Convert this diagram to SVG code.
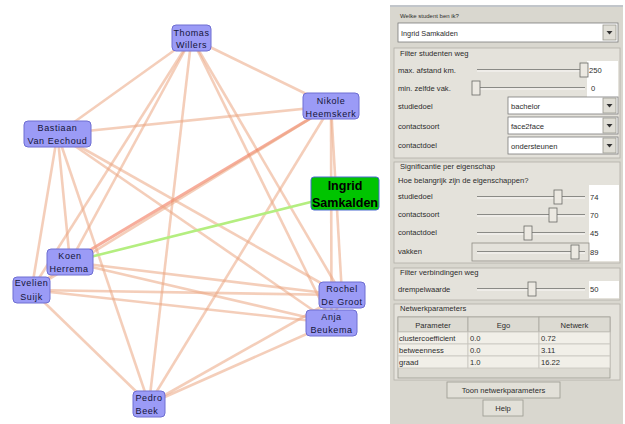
<svg xmlns="http://www.w3.org/2000/svg" width="625" height="424" viewBox="0 0 625 424">
<style>
.e{stroke:#eba582;stroke-opacity:0.55;stroke-width:2.6;fill:none}
.es{stroke:#f06a4a;stroke-opacity:0.55;stroke-width:3;fill:none}
.eg{stroke:#b4ee80;stroke-width:2.6;fill:none}
.nd rect{fill:#9b9bf6;stroke:#6e6ed2;stroke-width:1}
.nd text{font-family:"Liberation Sans",Arial,sans-serif;font-size:9px;letter-spacing:0.6px;fill:#141438;text-anchor:middle}
.ig rect{fill:#00c400;stroke:#4a6ad0;stroke-width:1}
.ig text{font-family:"Liberation Sans",Arial,sans-serif;font-size:12.5px;font-weight:bold;fill:#000;text-anchor:middle}
.t{font-family:"Liberation Sans",Arial,sans-serif;font-size:7.6px;fill:#2c2c2c}
.tc{font-family:"Liberation Sans",Arial,sans-serif;font-size:7.6px;fill:#2c2c2c;text-anchor:middle}
.grp{fill:#e4e2db;stroke:#b2b0a8;stroke-width:0.8}
.wb{fill:#ffffff;stroke:#7a7a7a;stroke-width:0.8}
.btn{fill:#e2e0d8;stroke:#9a9890;stroke-width:0.8}
.trk{stroke:#8a8a86;stroke-width:1.2}
.trk2{stroke:#ffffff;stroke-width:0.8}
.th{fill:#ece9e2;stroke:#6a6a66;stroke-width:0.8}
.cell{fill:#f1efe8;stroke:#c8c6be;stroke-width:0.8}
.hcell{fill:#dcdad2;stroke:#a8a69e;stroke-width:0.8}
</style>
<defs>
<g id="arrow"><rect x="0" y="0" width="13" height="15" fill="#e0ded6" stroke="#9a9890" stroke-width="0.8"/><path d="M3.5 6 L9.5 6 L6.5 9.5 Z" fill="#333"/></g>
<g id="thumb"><rect x="-4" y="-7" width="8" height="14" class="th"/></g>
</defs>
<rect x="0" y="0" width="625" height="424" fill="#ffffff"/>
<g id="connectors">
<line class="e" x1="191.5" y1="38" x2="331" y2="106"/>
<line class="e" x1="191.5" y1="38" x2="57.5" y2="134"/>
<line class="e" x1="191.5" y1="38" x2="70" y2="262"/>
<line class="e" x1="191.5" y1="38" x2="31.5" y2="290"/>
<line class="e" x1="191.5" y1="38" x2="342" y2="295"/>
<line class="e" x1="191.5" y1="38" x2="331.5" y2="323"/>
<line class="e" x1="191.5" y1="38" x2="149" y2="404"/>
<line class="e" x1="331" y1="106" x2="57.5" y2="134"/>
<line class="es" x1="331" y1="106" x2="70" y2="262"/>
<line class="e" x1="331" y1="106" x2="31.5" y2="290"/>
<line class="e" x1="331" y1="106" x2="342" y2="295"/>
<line class="e" x1="331" y1="106" x2="331.5" y2="323"/>
<line class="e" x1="331" y1="106" x2="149" y2="404"/>
<line class="e" x1="57.5" y1="134" x2="70" y2="262"/>
<line class="e" x1="57.5" y1="134" x2="31.5" y2="290"/>
<line class="e" x1="57.5" y1="134" x2="342" y2="295"/>
<line class="e" x1="57.5" y1="134" x2="331.5" y2="323"/>
<line class="e" x1="57.5" y1="134" x2="149" y2="404"/>
<line class="e" x1="70" y1="262" x2="31.5" y2="290"/>
<line class="e" x1="70" y1="262" x2="342" y2="295"/>
<line class="e" x1="70" y1="262" x2="331.5" y2="323"/>
<line class="e" x1="31.5" y1="290" x2="342" y2="295"/>
<line class="e" x1="31.5" y1="290" x2="331.5" y2="323"/>
<line class="e" x1="31.5" y1="290" x2="149" y2="404"/>
<line class="e" x1="342" y1="295" x2="331.5" y2="323"/>
<line class="e" x1="342" y1="295" x2="149" y2="404"/>
<line class="e" x1="331.5" y1="323" x2="149" y2="404"/>
<line class="eg" x1="345" y1="193.5" x2="70" y2="262"/>
</g>
<g id="node-thomas" class="nd"><rect x="172" y="25" width="39" height="26" rx="4"/><text x="191.5" y="35.5">Thomas</text><text x="191.5" y="48">Willers</text></g>
<g id="node-nikole" class="nd"><rect x="303" y="93" width="56" height="26" rx="4"/><text x="331" y="104">Nikole</text><text x="331" y="116.5">Heemskerk</text></g>
<g id="node-bastiaan" class="nd"><rect x="24" y="121" width="67" height="26" rx="4"/><text x="57.5" y="131">Bastiaan</text><text x="57.5" y="144">Van Eechoud</text></g>
<g id="node-ingrid" class="ig"><rect x="311" y="177" width="68" height="33" rx="3"/><text x="345" y="190">Ingrid</text><text x="345" y="206.5">Samkalden</text></g>
<g id="node-koen" class="nd"><rect x="47" y="249" width="46" height="26" rx="4"/><text x="70" y="259">Koen</text><text x="69" y="272">Herrema</text></g>
<g id="node-evelien" class="nd"><rect x="13" y="277" width="37" height="26" rx="4"/><text x="31.5" y="286">Evelien</text><text x="31.5" y="299.5">Suijk</text></g>
<g id="node-rochel" class="nd"><rect x="319" y="282" width="46" height="26" rx="4"/><text x="342" y="292">Rochel</text><text x="342" y="305">De Groot</text></g>
<g id="node-anja" class="nd"><rect x="306" y="310" width="51" height="26" rx="4"/><text x="331.5" y="320">Anja</text><text x="331.5" y="333">Beukema</text></g>
<g id="node-pedro" class="nd"><rect x="133" y="391" width="32" height="26" rx="4"/><text x="149" y="401">Pedro</text><text x="147" y="414">Beek</text></g>
<g id="panel">
<rect x="390" y="5" width="233" height="419" fill="#d9d7cf"/>
<line x1="390" y1="6" x2="623" y2="6" stroke="#aab4c6" stroke-width="1"/>
<text class="t" x="400" y="18" style="font-size:6px">Welke student ben ik?</text>
<rect class="wb" x="398" y="23" width="220" height="19"/>
<text class="t" x="401" y="35.5" style="font-size:7.3px">Ingrid Samkalden</text>
<use href="#arrow" x="603" y="25"/>
<rect class="grp" x="394" y="48" width="226" height="110"/>
<text class="t" x="400" y="56">Filter studenten weg</text>
<rect x="587" y="61" width="31" height="36" fill="#ffffff"/>
<text class="t" x="398" y="73">max. afstand km.</text>
<line class="trk" x1="477" y1="69.5" x2="584" y2="69.5"/><line class="trk2" x1="477" y1="71" x2="584" y2="71"/>
<use href="#thumb" x="584" y="70"/>
<text class="t" x="589" y="73">250</text>
<text class="t" x="398" y="91">min. zelfde vak.</text>
<line class="trk" x1="472" y1="87.5" x2="585" y2="87.5"/><line class="trk2" x1="472" y1="89" x2="585" y2="89"/>
<use href="#thumb" x="476" y="88"/>
<text class="t" x="591" y="91">0</text>
<text class="t" x="398" y="109">studiedoel</text>
<rect class="wb" x="508" y="97" width="110" height="17"/><text class="t" x="511" y="108.5">bachelor</text><use href="#arrow" x="603" y="98" transform="translate(0,0)"/>
<text class="t" x="398" y="129">contactsoort</text>
<rect class="wb" x="508" y="117" width="110" height="17"/><text class="t" x="511" y="128.5">face2face</text><use href="#arrow" x="603" y="118"/>
<text class="t" x="398" y="148">contactdoel</text>
<rect class="wb" x="508" y="137" width="110" height="17"/><text class="t" x="511" y="148.5">ondersteunen</text><use href="#arrow" x="603" y="138"/>
<rect class="grp" x="394" y="162" width="226" height="101"/>
<text class="t" x="400" y="169">Significantie per eigenschap</text>
<text class="t" x="398" y="183">Hoe belangrijk zijn de eigenschappen?</text>
<rect x="589" y="185" width="30" height="76" fill="#ffffff"/>
<text class="t" x="398" y="199">studiedoel</text>
<line class="trk" x1="477" y1="196.5" x2="585" y2="196.5"/><line class="trk2" x1="477" y1="198" x2="585" y2="198"/>
<use href="#thumb" x="558" y="197"/>
<text class="t" x="590" y="199.5">74</text>
<text class="t" x="398" y="217">contactsoort</text>
<line class="trk" x1="477" y1="214.5" x2="585" y2="214.5"/><line class="trk2" x1="477" y1="216" x2="585" y2="216"/>
<use href="#thumb" x="553" y="215"/>
<text class="t" x="590" y="217.5">70</text>
<text class="t" x="398" y="235">contactdoel</text>
<line class="trk" x1="477" y1="232.5" x2="585" y2="232.5"/><line class="trk2" x1="477" y1="234" x2="585" y2="234"/>
<use href="#thumb" x="528" y="233"/>
<text class="t" x="590" y="235.5">45</text>
<rect x="472" y="243" width="117" height="18" fill="none" stroke="#8e8c84" stroke-width="0.8"/>
<text class="t" x="398" y="254">vakken</text>
<line class="trk" x1="477" y1="251.5" x2="585" y2="251.5"/><line class="trk2" x1="477" y1="253" x2="585" y2="253"/>
<use href="#thumb" x="575" y="252"/>
<text class="t" x="590" y="254.5">89</text>
<rect class="grp" x="394" y="268" width="226" height="32"/>
<text class="t" x="400" y="275">Filter verbindingen weg</text>
<rect x="589" y="281" width="30" height="17" fill="#ffffff"/>
<text class="t" x="398" y="292">drempelwaarde</text>
<line class="trk" x1="477" y1="288.5" x2="585" y2="288.5"/><line class="trk2" x1="477" y1="290" x2="585" y2="290"/>
<use href="#thumb" x="532" y="289"/>
<text class="t" x="590" y="292">50</text>
<rect class="grp" x="394" y="304" width="226" height="76"/>
<text class="t" x="400" y="311">Netwerkparameters</text>
<rect x="398" y="317" width="212" height="61" fill="#dcdad2" stroke="#9a9890" stroke-width="0.8"/>
<rect class="hcell" x="398" y="317" width="70" height="15"/><rect class="hcell" x="468" y="317" width="71" height="15"/><rect class="hcell" x="539" y="317" width="71" height="15"/>
<text class="tc" x="433" y="327.5">Parameter</text><text class="tc" x="503.5" y="327.5">Ego</text><text class="tc" x="574.5" y="327.5">Netwerk</text>
<rect class="cell" x="398" y="332" width="70" height="12"/><rect class="cell" x="468" y="332" width="71" height="12"/><rect class="cell" x="539" y="332" width="71" height="12"/>
<rect class="cell" x="398" y="344" width="70" height="12"/><rect class="cell" x="468" y="344" width="71" height="12"/><rect class="cell" x="539" y="344" width="71" height="12"/>
<rect class="cell" x="398" y="356" width="70" height="12"/><rect class="cell" x="468" y="356" width="71" height="12"/><rect class="cell" x="539" y="356" width="71" height="12"/>
<text class="t" x="399" y="341">clustercoefficient</text><text class="t" x="470" y="341">0.0</text><text class="t" x="541" y="341">0.72</text>
<text class="t" x="399" y="353">betweenness</text><text class="t" x="470" y="353">0.0</text><text class="t" x="541" y="353">3.11</text>
<text class="t" x="399" y="365">graad</text><text class="t" x="470" y="365">1.0</text><text class="t" x="541" y="365">16.22</text>
<rect class="btn" x="447" y="382" width="113" height="16"/>
<text class="tc" x="503.5" y="392.5">Toon netwerkparameters</text>
<rect class="btn" x="483" y="400" width="40" height="16"/>
<text class="tc" x="503" y="410.5">Help</text>
</g>
</svg>
